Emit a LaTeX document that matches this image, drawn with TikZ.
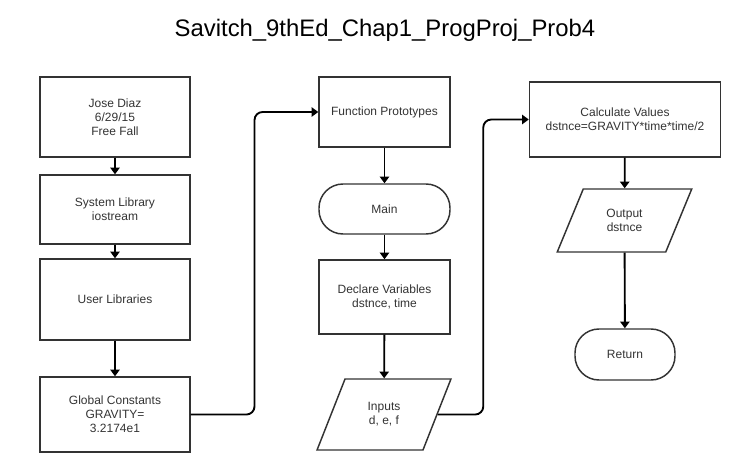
\documentclass[tikz,border=0pt]{standalone}
\usepackage{fontspec}
\setmainfont{Liberation Sans}
\usepackage{tikz}
\usetikzlibrary{shapes,arrows.meta}
\usetikzlibrary{shapes.geometric}
\usetikzlibrary{calc}
\usetikzlibrary{positioning}
\definecolor{boxline}{HTML}{333333}
\definecolor{boxtext}{HTML}{333333}
\tikzstyle{block} = [draw=boxline, line width=1.1pt, rectangle, align=center,
    text=boxtext, font=\fontsize{9}{10.6}\selectfont, inner sep=2pt]
\tikzstyle{term} = [block, rounded corners=18pt]
\tikzstyle{io} = [draw=boxline, line width=1.1pt, trapezium, trapezium stretches=true,
    trapezium left angle=65, trapezium right angle=115, align=center,
    text=boxtext, font=\fontsize{9}{10.6}\selectfont, inner sep=2pt]
\tikzstyle{line} = [draw, line width=1.4pt, ->]

\begin{document}
\begin{tikzpicture}[x=0.75pt, y=-0.75pt, >={Triangle[width=7pt,length=5pt]}]
    \useasboundingbox (0,0) rectangle (744,472);

    \node[font=\fontsize{17.9}{20}\selectfont, text=black] at (385,30) (title) {Savitch\_9thEd\_Chap1\_ProgProj\_Prob4};

    % first column
    \node[block, minimum width=112.5pt, minimum height=60pt] at (115,117) (header) {Jose Diaz\\6/29/15\\Free Fall};
    \node[block, minimum width=112.5pt, minimum height=51.75pt] at (115,209.5) (syslib) {System Library\\iostream};
    \node[block, minimum width=112.5pt, minimum height=60.75pt] at (115,299.5) (userlib) {User Libraries};
    \node[block, minimum width=112.5pt, minimum height=56.25pt] at (115,414.5) (const) {Global Constants\\GRAVITY=\\3.2174e1};
    \draw[line] (header) -- (syslib);
    \draw[line] (syslib) -- (userlib);
    \draw[line] (userlib) -- (const);

    % second column
    \node[block, minimum width=98.25pt, minimum height=52.5pt] at (384.5,112) (proto) {Function Prototypes};
    \node[term, minimum width=98.25pt, minimum height=37.5pt] at (384.5,209) (main) {Main};
    \node[block, minimum width=98.25pt, minimum height=55.5pt] at (384.5,297) (decl) {Declare Variables\\dstnce, time};
    \node[io, minimum width=100.5pt, minimum height=53.25pt] at (384,414.5) (inputs) {Inputs\\d, e, f};
    \draw[line] (proto) -- (main);
    \draw[line] (main) -- (decl);
    \draw[line] (decl) -- (inputs);

    % third column
    \node[block, minimum width=143.25pt, minimum height=56.25pt] at (625,119.5) (calc) {Calculate Values\\dstnce=GRAVITY*time*time/2};
    \node[io, minimum width=101.25pt, minimum height=47.25pt] at (624.5,220.5) (output) {Output\\dstnce};
    \node[term, minimum width=75pt, minimum height=38.25pt] at (625,354.5) (ret) {Return};
    \draw[line] (calc) -- (output);
    \draw[line] (output) -- (ret);

    % links between the columns
    \draw[line, rounded corners=6pt] (const.east) -| ($(const.east)!0.5!(proto.west)$) |- (proto.west);
    \draw[line, rounded corners=6pt] (inputs.east) -| ($(inputs.east)!0.5!(calc.west)$) |- (calc.west);
\end{tikzpicture}
\end{document}
